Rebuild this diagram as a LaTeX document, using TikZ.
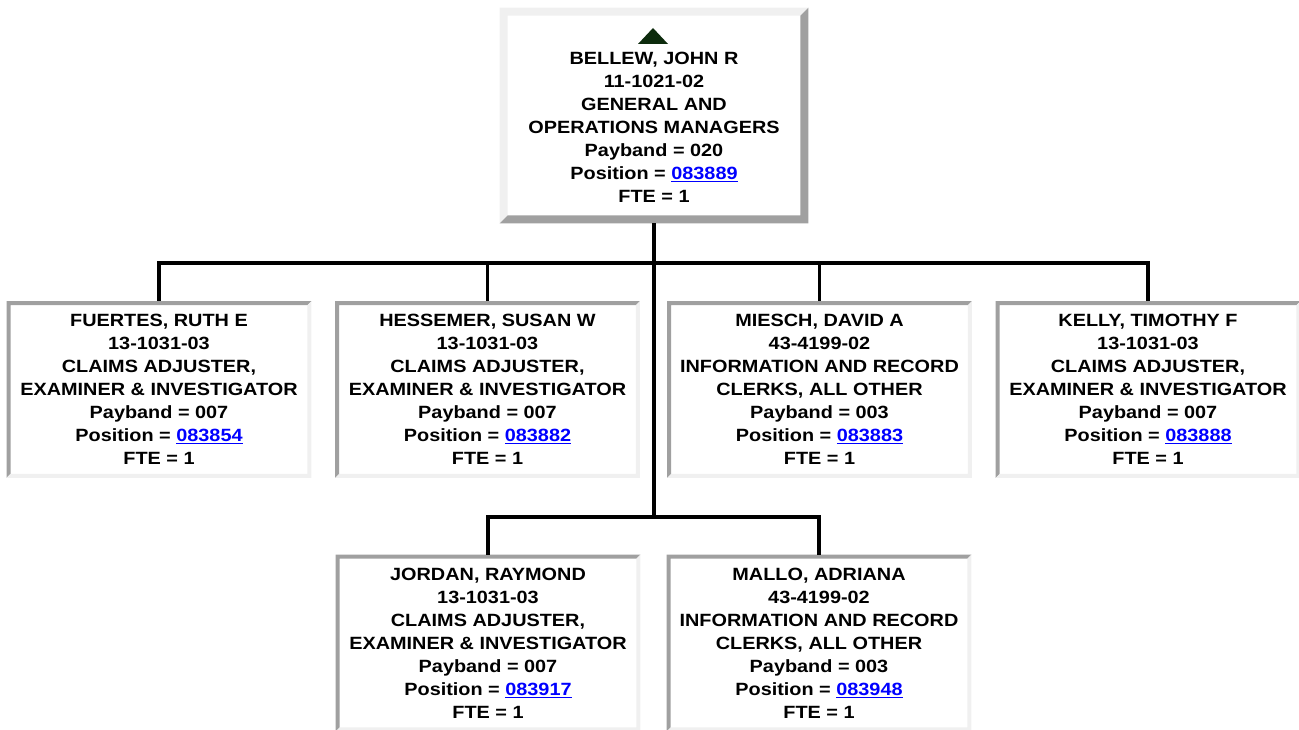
\documentclass[tikz,border=0pt]{standalone}
\usepackage{fontspec}
\setmainfont{Liberation Sans}[FakeStretch=1.12]
\definecolor{edgedark}{HTML}{A0A0A0}
\definecolor{edgelite}{HTML}{F0F0F0}
\definecolor{linkblue}{HTML}{0000FF}
\definecolor{upgreen}{HTML}{0D2B0D}
\tikzset{
  card/.style={fill=white, minimum width=228pt, minimum height=132pt,
               inner sep=0pt},
  bosscard/.style={fill=white, minimum width=231pt, minimum height=161.25pt,
                   inner sep=0pt},
  info/.style={align=center, inner sep=0pt,
               font=\bfseries\fontsize{13.3pt}{17.25pt}\selectfont},
  conn/.style={draw=black, line width=2.3pt},
}
\newcommand{\posn}[1]{\textcolor{linkblue}{\underline{#1}}}
% raised / sunken frame round a node: name, width, top-left colour, bottom-right colour
\newcommand{\bevel}[4]{%
  \fill[#3] (#1.south west) -- (#1.north west) -- (#1.north east)
    -- ([shift={(-#2,-#2)}]#1.north east) -- ([shift={(#2,-#2)}]#1.north west)
    -- ([shift={(#2,#2)}]#1.south west) -- cycle;
  \fill[#4] (#1.south west) -- (#1.south east) -- (#1.north east)
    -- ([shift={(-#2,-#2)}]#1.north east) -- ([shift={(-#2,#2)}]#1.south east)
    -- ([shift={(#2,#2)}]#1.south west) -- cycle;
}

\begin{document}
\begin{tikzpicture}[x=0.75pt, y=-0.75pt]
\useasboundingbox (0,0) rectangle (1299,730);

% top of the chart
\node[bosscard] (bossbox) at (654,115.5) {};
\bevel{bossbox}{6pt}{edgelite}{edgedark}
\fill[upgreen] (638,44) -- (653,28) -- (668,44) -- cycle;
\node[info] (boss) at (654,127)
  {BELLEW, JOHN R\\ 11-1021-02\\ GENERAL AND\\ OPERATIONS MANAGERS\\
   Payband = 020\\ Position = \posn{083889}\\ FTE = 1};

% first row
\node[card, info] (fuertes) at (159,389.5)
  {FUERTES, RUTH E\\ 13-1031-03\\ CLAIMS ADJUSTER,\\ EXAMINER \& INVESTIGATOR\\
   Payband = 007\\ Position = \posn{083854}\\ FTE = 1};
\node[card, info] (hessemer) at (487.5,389.5)
  {HESSEMER, SUSAN W\\ 13-1031-03\\ CLAIMS ADJUSTER,\\ EXAMINER \& INVESTIGATOR\\
   Payband = 007\\ Position = \posn{083882}\\ FTE = 1};
\node[card, info] (miesch) at (819.5,389.5)
  {MIESCH, DAVID A\\ 43-4199-02\\ INFORMATION AND RECORD\\ CLERKS, ALL OTHER\\
   Payband = 003\\ Position = \posn{083883}\\ FTE = 1};
\node[card, info] (kelly) at (1148,389.5)
  {KELLY, TIMOTHY F\\ 13-1031-03\\ CLAIMS ADJUSTER,\\ EXAMINER \& INVESTIGATOR\\
   Payband = 007\\ Position = \posn{083888}\\ FTE = 1};

% second row
\node[card, info] (jordan) at (488,643)
  {JORDAN, RAYMOND\\ 13-1031-03\\ CLAIMS ADJUSTER,\\ EXAMINER \& INVESTIGATOR\\
   Payband = 007\\ Position = \posn{083917}\\ FTE = 1};
\node[card, info] (mallo) at (819,643)
  {MALLO, ADRIANA\\ 43-4199-02\\ INFORMATION AND RECORD\\ CLERKS, ALL OTHER\\
   Payband = 003\\ Position = \posn{083948}\\ FTE = 1};

\foreach \n in {fuertes,hessemer,miesch,kelly,jordan,mallo}
  \bevel{\n}{3pt}{edgedark}{edgelite};

% connectors
\coordinate (bus) at (654,263);
\coordinate (bus2) at (654,517);
\draw[conn] (bossbox.south) -- (bus2);
\foreach \n in {fuertes,hessemer,miesch,kelly}
  \draw[conn] (bus) -| (\n.north);
\foreach \n in {jordan,mallo}
  \draw[conn] (bus2) -| (\n.north);

\end{tikzpicture}
\end{document}
